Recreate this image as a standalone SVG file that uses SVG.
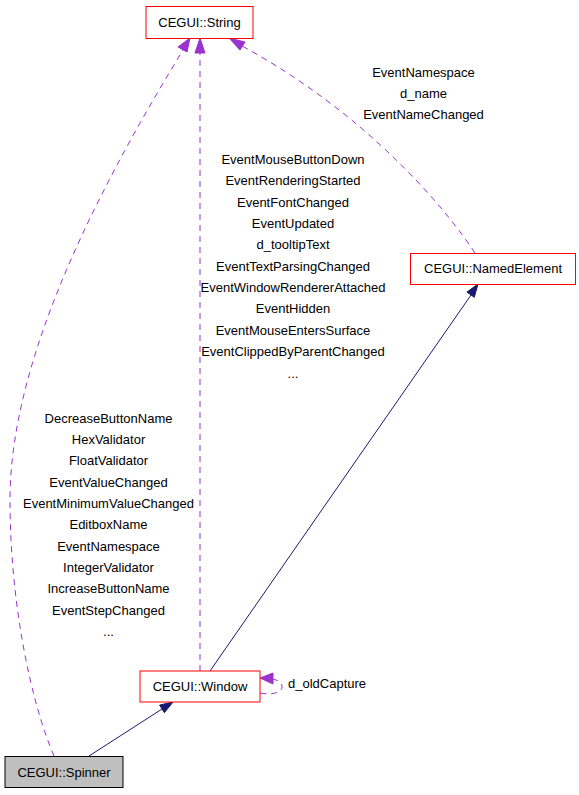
<svg xmlns="http://www.w3.org/2000/svg" width="579" height="795" viewBox="0 0 579 795">
<style>
text { font-family: "Liberation Sans", Arial, sans-serif; font-size: 13px; fill: #000; }
.c { text-anchor: middle; }
.node { fill: #ffffff; stroke: #ff0000; stroke-width: 1; }
.gray { fill: #bfbfbf; stroke: #000000; stroke-width: 1; }
.dash { fill: none; stroke: #9a32cd; stroke-width: 1; stroke-dasharray: 6,5; }
.solid { fill: none; stroke: #191970; stroke-width: 1; }
.ah-p { fill: #9a32cd; stroke: #9a32cd; }
.ah-n { fill: #191970; stroke: #191970; }
</style>
<rect width="579" height="795" fill="#ffffff"/>
<g id="edges">
  <!-- Spinner -> String -->
  <path class="dash" d="M54,756 C30,700 10,600 10,500 C10,350 110,170 183,50"/>
  <polygon class="ah-p" points="190,38 178,47 187,52"/>
  <!-- Window -> String -->
  <path class="dash" d="M200,671 L200,52"/>
  <polygon class="ah-p" points="200,38 195,53 205,53"/>
  <!-- NamedElement -> String -->
  <path class="dash" d="M475,253 C440,200 360,110 242,46"/>
  <polygon class="ah-p" points="229,38 240,50 245,42"/>
  <!-- Window -> NamedElement -->
  <path class="solid" d="M210,671 L471,295"/>
  <polygon class="ah-n" points="478,284 466.9,292.1 474.3,297.3"/>
  <!-- Spinner -> Window -->
  <path class="solid" d="M89,756 L162,709"/>
  <polygon class="ah-n" points="173,702 159.6,705.1 164.4,712.7"/>
  <!-- self loop Window -->
  <path class="dash" d="M260,693 C275,696 283,691 282,686 C281,682 278,680 272,679"/>
  <polygon class="ah-p" points="260,678 273,673 273,684"/>
</g>
<g id="edge-labels">
  <text class="c" x="293" y="163.5">EventMouseButtonDown</text>
  <text class="c" x="293" y="184.5">EventRenderingStarted</text>
  <text class="c" x="293" y="206.5">EventFontChanged</text>
  <text class="c" x="293" y="227.5">EventUpdated</text>
  <text class="c" x="293" y="248.5">d_tooltipText</text>
  <text class="c" x="293" y="270.5">EventTextParsingChanged</text>
  <text class="c" x="293" y="291.5">EventWindowRendererAttached</text>
  <text class="c" x="293" y="312.5">EventHidden</text>
  <text class="c" x="293" y="334.5">EventMouseEntersSurface</text>
  <text class="c" x="293" y="355.5">EventClippedByParentChanged</text>
  <text class="c" x="293" y="377.5">...</text>

  <text class="c" x="108.5" y="422.5">DecreaseButtonName</text>
  <text class="c" x="108.5" y="443.5">HexValidator</text>
  <text class="c" x="108.5" y="464.5">FloatValidator</text>
  <text class="c" x="108.5" y="486.5">EventValueChanged</text>
  <text class="c" x="108.5" y="507.5">EventMinimumValueChanged</text>
  <text class="c" x="108.5" y="528.5">EditboxName</text>
  <text class="c" x="108.5" y="550.5">EventNamespace</text>
  <text class="c" x="108.5" y="571.5">IntegerValidator</text>
  <text class="c" x="108.5" y="592.5">IncreaseButtonName</text>
  <text class="c" x="108.5" y="614.5">EventStepChanged</text>
  <text class="c" x="108.5" y="635.5">...</text>

  <text class="c" x="423.5" y="76.5">EventNamespace</text>
  <text class="c" x="423.5" y="97.5">d_name</text>
  <text class="c" x="423.5" y="119">EventNameChanged</text>

  <text x="288" y="688">d_oldCapture</text>
</g>
<g id="node-string">
  <rect class="node" x="146" y="6.5" width="107" height="32"/>
  <text class="c" x="199.5" y="27">CEGUI::String</text>
</g>
<g id="node-namedelement">
  <rect class="node" x="410.5" y="253.5" width="165" height="31"/>
  <text class="c" x="493" y="273">CEGUI::NamedElement</text>
</g>
<g id="node-window">
  <rect class="node" x="140" y="671" width="120" height="31"/>
  <text class="c" x="200" y="691">CEGUI::Window</text>
</g>
<g id="node-spinner">
  <rect class="gray" x="5" y="756.5" width="118" height="31"/>
  <text class="c" x="64" y="776.5">CEGUI::Spinner</text>
</g>
</svg>
